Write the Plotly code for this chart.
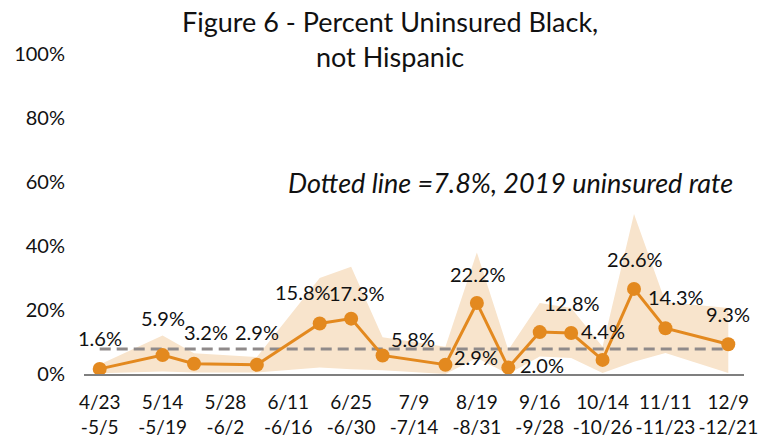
import plotly.graph_objects as go

# survey periods (weeks 1-21)
periods = ['4/23-5/5', '5/7-5/12', '5/14-5/19', '5/21-5/26', '5/28-6/2', '6/4-6/9',
           '6/11-6/16', '6/18-6/23', '6/25-6/30', '7/2-7/7', '7/9-7/14', '7/16-7/21',
           '8/19-8/31', '9/2-9/14', '9/16-9/28', '9/30-10/12', '10/14-10/26',
           '10/28-11/9', '11/11-11/23', '11/25-12/7', '12/9-12/21']

uninsured = [1.6, None, 5.9, 3.2, None, 2.9, None, 15.8, 17.3, 5.8, None, 2.9,
             22.2, 2.0, 13.1, 12.8, 4.4, 26.6, 14.3, None, 9.3]
upper = [3.0, None, 12.0, 6.5, None, 5.3, None, 30.0, 33.5, 11.5, None, 8.5,
         38.0, 7.5, 22.2, 20.6, 8.5, 50.0, 22.5, None, 20.6]
lower = [0.2, None, 0.8, 0.5, None, 0.5, None, 2.0, 1.5, 1.2, None, 0.0,
         5.0, 0.0, 5.5, 5.0, 0.3, 3.8, 6.6, None, 0.3]

tick_periods = ['4/23-5/5', '5/14-5/19', '5/28-6/2', '6/11-6/16', '6/25-6/30', '7/9-7/14',
                '8/19-8/31', '9/16-9/28', '10/14-10/26', '11/11-11/23', '12/9-12/21']
tick_text = ['4/23<br>-5/5', '5/14<br>-5/19', '5/28<br>-6/2', '6/11<br>-6/16', '6/25<br>-6/30',
             '7/9<br>-7/14', '8/19<br>-8/31', '9/16<br>-9/28', '10/14<br>-10/26',
             '11/11<br>-11/23', '12/9<br>-12/21']

rate_2019 = 7.8

# which points get a label, and where (dx, dy in px, negative dy = above)
label_offsets = {
    '4/23-5/5': (0, -31), '5/14-5/19': (0, -37), '5/21-5/26': (12, -32),
    '6/4-6/9': (0, -33), '6/18-6/23': (-17, -31), '6/25-6/30': (6, -26),
    '7/2-7/7': (30, -16), '7/16-7/21': (31, -8), '8/19-8/31': (1, -29),
    '9/2-9/14': (34, -3), '9/30-10/12': (1, -30), '10/14-10/26': (0, -29),
    '10/28-11/9': (1, -30), '11/11-11/23': (11, -31), '12/9-12/21': (0, -30),
}

font = 'Lato, Calibri, sans-serif'
orange = '#E3891F'

xs = [p for p, v in zip(periods, uninsured) if v is not None]
ys = [v for v in uninsured if v is not None]
up = [u for u in upper if u is not None]
lo = [l for l in lower if l is not None]

fig = go.Figure()

fig.add_trace(go.Scatter(
    x=xs + xs[::-1], y=up + lo[::-1],
    fill='toself', fillcolor='#F8E4CC', line=dict(width=0),
    mode='lines', hoverinfo='skip', showlegend=False
))

fig.add_trace(go.Scatter(
    x=[xs[0], xs[-1]], y=[rate_2019, rate_2019],
    mode='lines', line=dict(color='#8F8A8A', width=3, dash='11px,6px'),
    hoverinfo='skip', showlegend=False
))

fig.add_trace(go.Scatter(
    x=xs, y=ys, mode='lines+markers',
    line=dict(color=orange, width=3),
    marker=dict(color=orange, size=14),
    showlegend=False,
    hovertemplate='%{x}: %{y:.1f}%<extra></extra>'
))

for p, v in zip(xs, ys):
    if p in label_offsets:
        dx, dy = label_offsets[p]
        fig.add_annotation(
            x=p, y=v, text=f'{v:.1f}%', showarrow=False,
            xshift=dx, yshift=-dy, font=dict(family=font, size=20, color='#111111')
        )

fig.add_annotation(
    xref='paper', x=0.986, xanchor='right', y=59.7,
    text='<i>Dotted line =7.8%, 2019 uninsured rate</i>', showarrow=False,
    font=dict(family=font, size=27, color='#111111')
)

# title as a paper annotation so both lines stay in view
fig.add_annotation(
    xref='paper', yref='paper', x=0.464, y=1.048, xanchor='center', yanchor='middle',
    text='Figure 6 - Percent Uninsured Black,<br>not Hispanic', showarrow=False,
    font=dict(family=font, size=27, color='#111111')
)

fig.update_layout(
    width=759, height=441,
    plot_bgcolor='white', paper_bgcolor='white',
    margin=dict(l=84, r=15, t=54, b=67),
    xaxis=dict(
        type='category', categoryorder='array', categoryarray=periods,
        range=[-0.5, len(periods) - 0.5],
        tickvals=tick_periods, ticktext=tick_text, tickangle=0,
        tickfont=dict(family=font, size=19, color='#111111'),
        showgrid=False, showline=True, linecolor='#7F7F7F', linewidth=2,
        ticks='', ticklabelstandoff=10, zeroline=False, automargin=False
    ),
    yaxis=dict(
        range=[0, 100], tickvals=[0, 20, 40, 60, 80, 100],
        ticktext=['0%', '20%', '40%', '60%', '80%', '100%'],
        tickfont=dict(family=font, size=20, color='#111111'),
        showgrid=False, zeroline=False, ticks='', ticklabelstandoff=18,
        automargin=False
    ),
)

# drop the browser's default body margin so the figure sits at the window corner
fig.write_html('out.html', config={'displayModeBar': False},
               post_script="document.body.style.margin='0';")
